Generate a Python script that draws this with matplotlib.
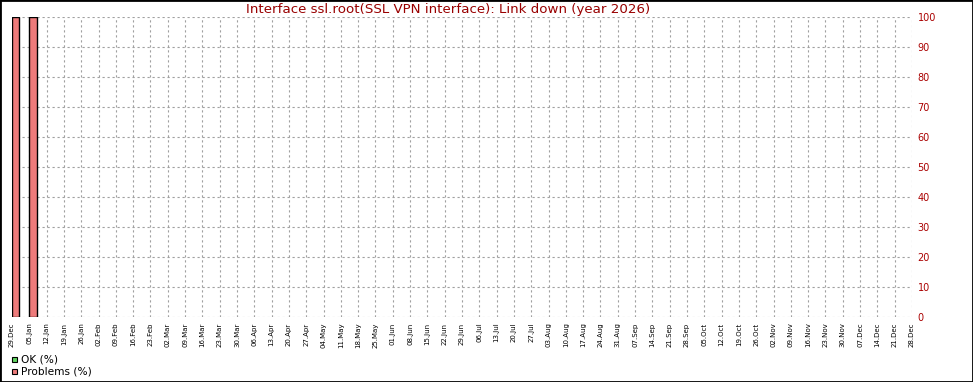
import numpy as np
import matplotlib.pyplot as plt
from matplotlib.patches import Rectangle

# Wochen-Beschriftungen (x-Achse)
wochen = ["29.Dec", "05.Jan", "12.Jan", "19.Jan", "26.Jan", "02.Feb", "09.Feb", "16.Feb",
          "23.Feb", "02.Mar", "09.Mar", "16.Mar", "23.Mar", "30.Mar", "06.Apr", "13.Apr",
          "20.Apr", "27.Apr", "04.May", "11.May", "18.May", "25.May", "01.Jun", "08.Jun",
          "15.Jun", "22.Jun", "29.Jun", "06.Jul", "13.Jul", "20.Jul", "27.Jul", "03.Aug",
          "10.Aug", "17.Aug", "24.Aug", "31.Aug", "07.Sep", "14.Sep", "21.Sep", "28.Sep",
          "05.Oct", "12.Oct", "19.Oct", "26.Oct", "02.Nov", "09.Nov", "16.Nov", "23.Nov",
          "30.Nov", "07.Dec", "14.Dec", "21.Dec", "28.Dec"]

# Werte je Woche (nur die ersten beiden Wochen haben Daten)
balken_woche = [0, 1]
ok_prozent = [0, 0]
problem_prozent = [100, 100]

y_ticks = [0, 10, 20, 30, 40, 50, 60, 70, 80, 90, 100]

farbe_ok = '#5fd35f'
farbe_problem = '#ee7b7b'
farbe_titel = '#990000'

W, H = 973, 382
fig = plt.figure(figsize=(W / 100, H / 100), dpi=100)
ax = fig.add_axes([12 / W, 1 - 317 / H, 900 / W, 300 / H])

x_pos = np.arange(len(wochen))
ax.bar(balken_woche, ok_prozent, width=0.43, align='edge', color=farbe_ok,
       edgecolor='black', linewidth=1)
ax.bar(balken_woche, problem_prozent, bottom=ok_prozent, width=0.43, align='edge',
       color=farbe_problem, edgecolor='black', linewidth=1)

ax.set_xlim(0, len(wochen) - 1)
ax.set_ylim(0, 100)
ax.set_xticks(x_pos)
ax.set_xticklabels(wochen, rotation=90, fontsize=5)
ax.set_yticks(y_ticks)
ax.yaxis.tick_right()
ax.tick_params(axis='y', labelsize=7, length=0, pad=4)
ax.tick_params(axis='x', length=0, pad=4)
for lbl in ax.get_yticklabels():
    lbl.set_color('#aa0000')

ax.grid(True, color='#a0a0a0', linestyle=(0, (2, 2.5)), linewidth=0.8)
ax.set_axisbelow(True)
for s in ax.spines.values():
    s.set_visible(False)

fig.text(448 / W, 1 - 9 / H, "Interface ssl.root(SSL VPN interface): Link down (year 2026)",
         ha='center', va='center', fontsize=9.6, color=farbe_titel)

# Legende unten links
for i, (name, farbe) in enumerate([("OK (%)", farbe_ok), ("Problems (%)", farbe_problem)]):
    y = 359.5 + i * 12
    fig.patches.append(Rectangle((12 / W, 1 - (y + 2.5) / H), 5 / W, 5 / H,
                                 transform=fig.transFigure, facecolor=farbe,
                                 edgecolor='black', linewidth=0.8))
    fig.text(21 / W, 1 - y / H, name, ha='left', va='center', fontsize=7.6)

# Rahmen um die Grafik
fig.patches.append(Rectangle((0, 0), 1, 1, transform=fig.transFigure, fill=False,
                             edgecolor='black', linewidth=2))

fig.savefig('out.png', dpi=100)
